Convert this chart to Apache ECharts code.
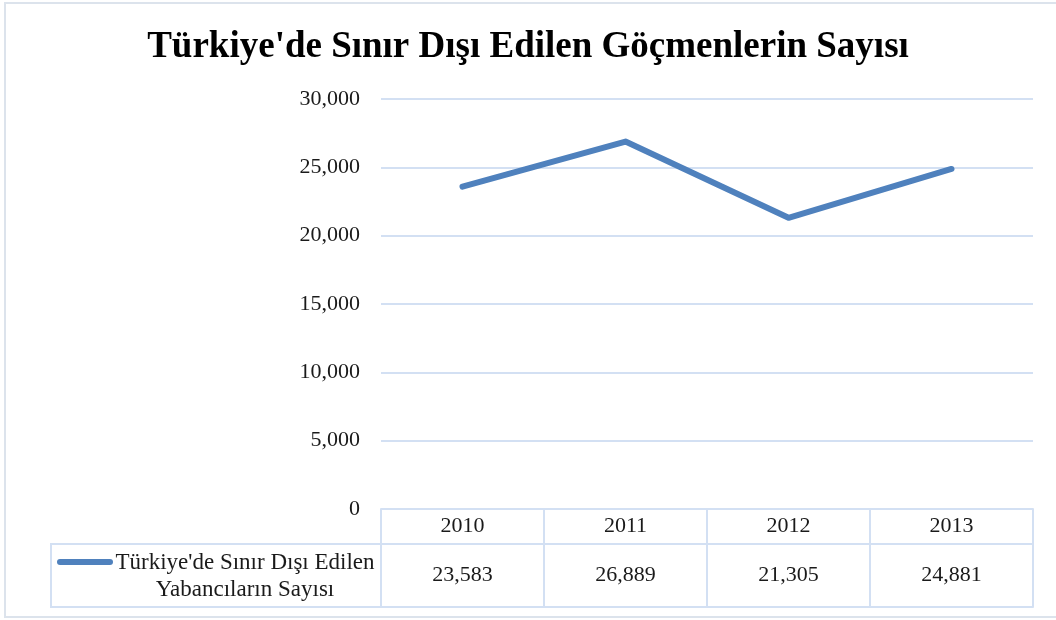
<!DOCTYPE html>
<html>
<head>
<meta charset="utf-8">
<script src="https://cdn.jsdelivr.net/npm/echarts@6/dist/echarts.min.js"></script>
<style>
  html, body { margin: 0; padding: 0; background: #fff; }
  #chart { width: 1056px; height: 620px; }
</style>
</head>
<body>
<div id="chart"></div>
<script>
// data
const titleText = "Türkiye'de Sınır Dışı Edilen Göçmenlerin Sayısı";
const seriesName = "Türkiye'de Sınır Dışı Edilen\nYabancıların Sayısı";
const years = ['2010', '2011', '2012', '2013'];
const deported = [23583, 26889, 21305, 24881];
const yTicks = [0, 5000, 10000, 15000, 20000, 25000, 30000];

const font = '"Liberation Serif", "DejaVu Serif", serif';
const lineColor = '#4F81BD';
const borderColor = '#D3E0F3';
const textColor = '#1a1a1a';
const fmt = v => Number(v).toLocaleString('en-US');

const chart = echarts.init(document.getElementById('chart'));

const option = {
    animation: false,
    title: {
        text: titleText,
        left: 'center',
        top: 24,
        textStyle: { fontFamily: font, fontSize: 37, fontWeight: 'bold', color: '#000' }
    },
    grid: { left: 381, right: 23, top: 99, bottom: 111 },
    xAxis: [
        {
            type: 'category',
            data: years,
            boundaryGap: true,
            axisLine: { show: true, lineStyle: { color: borderColor, width: 2 } },
            axisTick: { show: true, length: 98, lineStyle: { color: borderColor, width: 2 } },
            axisLabel: { margin: 6, fontFamily: font, fontSize: 22, color: textColor }
        },
        {
            type: 'category',
            data: years,
            position: 'bottom',
            offset: 35,
            boundaryGap: true,
            axisLine: { show: true, lineStyle: { color: borderColor, width: 2 } },
            axisTick: { show: false },
            axisLabel: {
                margin: 20, fontFamily: font, fontSize: 22, color: textColor,
                formatter: (v, i) => fmt(deported[i])
            }
        },
        {
            type: 'category',
            data: years,
            position: 'bottom',
            offset: 98,
            boundaryGap: true,
            axisLine: { show: true, lineStyle: { color: borderColor, width: 2 } },
            axisTick: { show: false },
            axisLabel: { show: false }
        }
    ],
    yAxis: {
        type: 'value',
        min: yTicks[0],
        max: yTicks[yTicks.length - 1],
        interval: yTicks[1] - yTicks[0],
        axisLine: { show: false },
        axisTick: { show: false },
        splitLine: { lineStyle: { color: borderColor, width: 2 } },
        axisLabel: { margin: 21, fontFamily: font, fontSize: 22, color: textColor, formatter: fmt }
    },
    series: [
        {
            name: seriesName,
            type: 'line',
            xAxisIndex: 0,
            data: deported,
            showSymbol: false,
            symbol: 'none',
            lineStyle: { color: lineColor, width: 6, cap: 'round', join: 'round' }
        }
    ],
    graphic: [
        {
            type: 'rect',
            shape: { x: 5, y: 3, width: 1060, height: 614 },
            style: { fill: 'none', stroke: '#DCE3EC', lineWidth: 2 },
            silent: true, z: -1
        },
        {
            type: 'rect',
            shape: { x: 51, y: 544, width: 330, height: 63 },
            style: { fill: 'none', stroke: borderColor, lineWidth: 2 },
            silent: true
        },
        {
            type: 'line',
            shape: { x1: 60, y1: 562, x2: 110, y2: 562 },
            style: { stroke: lineColor, lineWidth: 6, lineCap: 'round' },
            silent: true
        },
        {
            type: 'text',
            x: 245, y: 576,
            style: {
                text: seriesName,
                fontFamily: font, fontSize: 23, fill: textColor,
                align: 'center', verticalAlign: 'middle', lineHeight: 27
            },
            silent: true
        }
    ]
};

chart.setOption(option);
</script>
</body>
</html>
